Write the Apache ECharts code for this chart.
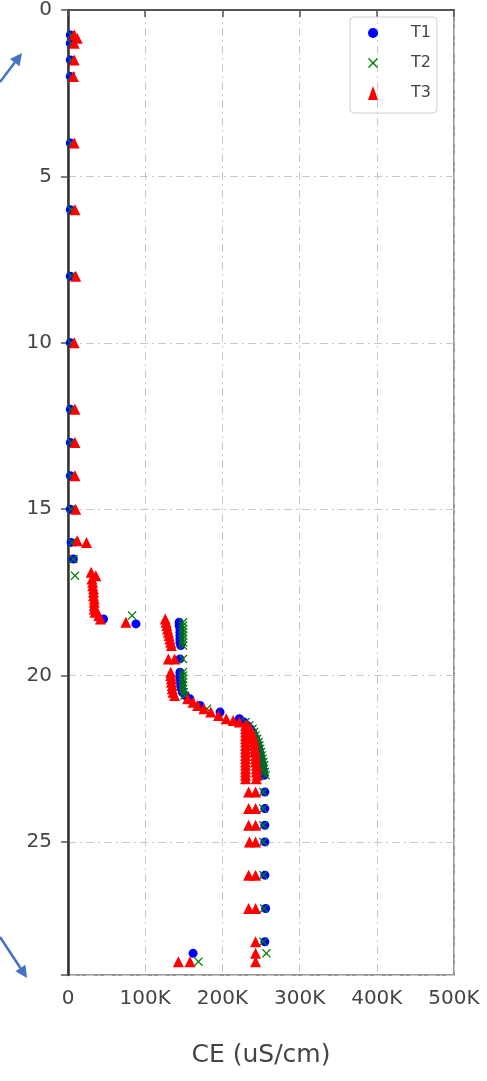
<!DOCTYPE html>
<html>
<head>
<meta charset="utf-8">
<script src="https://cdn.jsdelivr.net/npm/echarts@6/dist/echarts.min.js"></script>
<style>
  html, body { margin: 0; padding: 0; background: #fff; }
  #chart { width: 487px; height: 1081px; }
</style>
</head>
<body>
<div id="chart"></div>
<script>
// x axis ticks (CE, uS/cm) and y axis ticks (depth)
const xTicks = [0, 100000, 200000, 300000, 400000, 500000];
const yTicks = [0, 5, 10, 15, 20, 25];

// T1 - [CE, depth]
const t1 = [
    [3000, 0.75], [3000, 1.0], [3000, 1.5], [3000, 2.0], [3000, 4.0], [3000, 6.0],
    [3000, 8.0], [3000, 10], [3000, 12], [3000, 13], [3000, 14], [3000, 15],
    [4000, 16], [7000, 16.5], [46000, 18.3], [88000, 18.45],
    [144000, 18.4], [144000, 18.5], [145000, 18.6], [145000, 18.7], [145000, 18.8],
    [145000, 18.9], [145000, 19.0], [146000, 19.1], [145000, 19.5],
    [145000, 19.9], [145000, 20.0], [145000, 20.1], [146000, 20.2], [146000, 20.3],
    [147000, 20.4], [148000, 20.5], [152000, 20.6], [158000, 20.7],
    [171000, 20.9], [197000, 21.1], [222000, 21.3], [228000, 21.4], [232000, 21.5],
    [236000, 21.6], [239000, 21.7], [241000, 21.8], [243000, 21.9], [245000, 22.0],
    [246000, 22.1], [247000, 22.2], [248000, 22.3], [249000, 22.4], [250000, 22.5],
    [251000, 22.6], [252000, 22.7], [252000, 22.8], [253000, 22.9], [254000, 23.0],
    [255000, 23.5], [255000, 24.0], [255000, 24.5], [255000, 25.0], [255000, 26.0],
    [256000, 27.0], [255000, 28.0], [162000, 28.35]
];

// T2 - [CE, depth]
const t2 = [
    [4000, 0.75], [4000, 1.0], [4000, 1.5], [4000, 2.0], [4000, 4.0], [4000, 6.0],
    [4000, 8.0], [4000, 10], [4000, 12], [4000, 13], [4000, 14], [4000, 15],
    [5000, 16], [7000, 16.5], [9000, 17.0], [83000, 18.2],
    [149000, 18.4], [149000, 18.5], [149000, 18.6], [149000, 18.7], [149000, 18.8],
    [149000, 18.9], [149000, 19.0], [149000, 19.1], [149000, 19.5],
    [149000, 19.9], [149000, 20.0], [149000, 20.1], [149000, 20.2], [149000, 20.3],
    [149000, 20.4], [150000, 20.5], [151000, 20.6],
    [180000, 21.0], [230000, 21.4], [235000, 21.5], [239000, 21.6], [241000, 21.7],
    [243000, 21.8], [245000, 21.9], [247000, 22.0], [248000, 22.1], [249000, 22.2],
    [250000, 22.3], [251000, 22.4], [252000, 22.5], [253000, 22.6], [254000, 22.7],
    [254000, 22.8], [255000, 22.9], [256000, 23.0],
    [253000, 23.5], [253000, 24.0], [253000, 24.5], [253000, 25.0], [253000, 26.0],
    [254000, 27.0], [253000, 28.0], [257000, 28.35], [169000, 28.6]
];

// T3 - [CE, depth]
const t3 = [
    [8000, 0.75], [12000, 0.85], [8000, 1.0], [8000, 1.5], [7000, 2.0], [8000, 4.0],
    [9000, 6.0], [10000, 8.0], [8000, 10], [9000, 12], [9000, 13], [9000, 14],
    [10000, 15], [12000, 15.95], [24000, 16.0],
    [30000, 16.9], [36000, 17.0], [31000, 17.1], [32000, 17.2], [32000, 17.3],
    [33000, 17.4], [33000, 17.5], [33000, 17.6], [34000, 17.7], [34000, 17.8],
    [34000, 17.9], [34000, 18.0], [35000, 18.1], [40000, 18.2], [42000, 18.3],
    [75000, 18.4],
    [126000, 18.3], [127000, 18.4], [128000, 18.5], [129000, 18.6], [130000, 18.7],
    [131000, 18.8], [132000, 18.9], [133000, 19.0], [134000, 19.1],
    [130000, 19.5], [138000, 19.5],
    [133000, 19.9], [133000, 20.0], [134000, 20.1], [134000, 20.2], [135000, 20.3],
    [135000, 20.4], [136000, 20.5], [138000, 20.6],
    [155000, 20.7], [162000, 20.8], [168000, 20.9], [176000, 21.0], [185000, 21.1],
    [195000, 21.2], [205000, 21.3], [214000, 21.35], [222000, 21.4],
    [230000, 21.5], [233000, 21.5], [230000, 21.6], [236000, 21.6], [230000, 21.7],
    [238000, 21.7], [230000, 21.8], [239000, 21.8], [230000, 21.9], [240000, 21.9],
    [230000, 22.0], [241000, 22.0], [230000, 22.1], [241000, 22.1], [230000, 22.2],
    [242000, 22.2], [230000, 22.3], [242000, 22.3], [230000, 22.4], [243000, 22.4],
    [230000, 22.5], [243000, 22.5], [230000, 22.6], [243000, 22.6], [230000, 22.7],
    [244000, 22.7], [230000, 22.8], [244000, 22.8], [230000, 22.9], [244000, 22.9],
    [230000, 23.0], [245000, 23.0], [230000, 23.1], [244000, 23.1],
    [234000, 23.5], [243000, 23.5], [234000, 24.0], [243000, 24.0],
    [234000, 24.5], [243000, 24.5], [235000, 25.0], [243000, 25.0],
    [234000, 26.0], [243000, 26.0], [234000, 27.0], [243000, 27.0],
    [243000, 28.0], [243000, 28.35], [243000, 28.6], [143000, 28.6], [158000, 28.6]
];

const seriesNames = ["T1", "T2", "T3"];
const seriesColors = ["#0000ff", "#008000", "#ff0000"];

//filled x marker for T2
const xSymbol = "path://M0,1L1,0L5,4L9,0L10,1L6,5L10,9L9,10L5,6L1,10L0,9L4,5Z";
const symbols = ["circle", xSymbol, "triangle"];
const symbolSizes = [9, 9, 11];

const chart = echarts.init(document.getElementById("chart"));

const labelFont = { color: "#444", fontSize: 20, fontFamily: "DejaVu Sans" };
const gridLine = { show: true, lineStyle: { color: "#c8c8c8", width: 1, type: [8, 4, 2, 4] } };

//blue annotation arrows
function arrow(x1, y1, x2, y2) {
    const dx = x2 - x1, dy = y2 - y1, len = Math.sqrt(dx * dx + dy * dy);
    const ux = dx / len, uy = dy / len;
    const bx = x2 - 12 * ux, by = y2 - 12 * uy;
    return [
        { type: "line", shape: { x1: x1, y1: y1, x2: bx, y2: by }, style: { stroke: "#4472c4", lineWidth: 2.5 } },
        { type: "polygon", shape: { points: [[x2, y2], [bx + 6 * uy, by - 6 * ux], [bx - 6 * uy, by + 6 * ux]] }, style: { fill: "#4472c4" } }
    ];
}

const option = {
    animation: false,
    backgroundColor: "#fff",
    grid: { left: 68, right: 33, top: 8, bottom: 106, show: true, borderColor: "#777", borderWidth: 1.5 },
    legend: {
        left: 350, top: 17,
        orient: "vertical",
        itemWidth: 10, itemHeight: 14, itemGap: 14,
        padding: [8, 6, 12, 18],
        borderColor: "#d0d0d0", borderWidth: 1, borderRadius: 4,
        textStyle: { color: "#444", fontSize: 16, fontFamily: "DejaVu Sans", padding: [0, 0, 0, 28] },
        data: seriesNames
    },
    xAxis: {
        type: "value",
        min: xTicks[0], max: xTicks[xTicks.length - 1], interval: 100000,
        name: "CE (uS/cm)", nameLocation: "middle", nameGap: 68,
        nameTextStyle: { color: "#444", fontSize: 25, fontFamily: "DejaVu Sans" },
        axisLine: { show: true, lineStyle: { color: "#555", width: 2 } },
        axisTick: { show: true, length: 7, lineStyle: { color: "#555", width: 1.5 } },
        axisLabel: Object.assign({ margin: 14, formatter: v => v === 0 ? "0" : (v / 1000) + "K" }, labelFont),
        splitLine: gridLine
    },
    yAxis: {
        type: "value", inverse: true,
        min: 0, max: 29, interval: 5,
        axisLine: { show: true, lineStyle: { color: "#333", width: 2.5 } },
        axisTick: { show: true, length: 7, lineStyle: { color: "#555", width: 1.5 } },
        axisLabel: Object.assign({ margin: 16, formatter: v => yTicks.includes(v) ? String(v) : "" }, labelFont),
        splitLine: gridLine
    },
    series: [t1, t2, t3].map((d, i) => ({
        name: seriesNames[i],
        type: "scatter",
        symbol: symbols[i],
        symbolSize: symbolSizes[i],
        itemStyle: { color: seriesColors[i], opacity: 1 },
        z: 2 + i,
        data: d
    })),
    graphic: arrow(0, 82, 22, 53).concat(arrow(0, 937, 27, 978))
};

chart.setOption(option);
</script>
</body>
</html>
